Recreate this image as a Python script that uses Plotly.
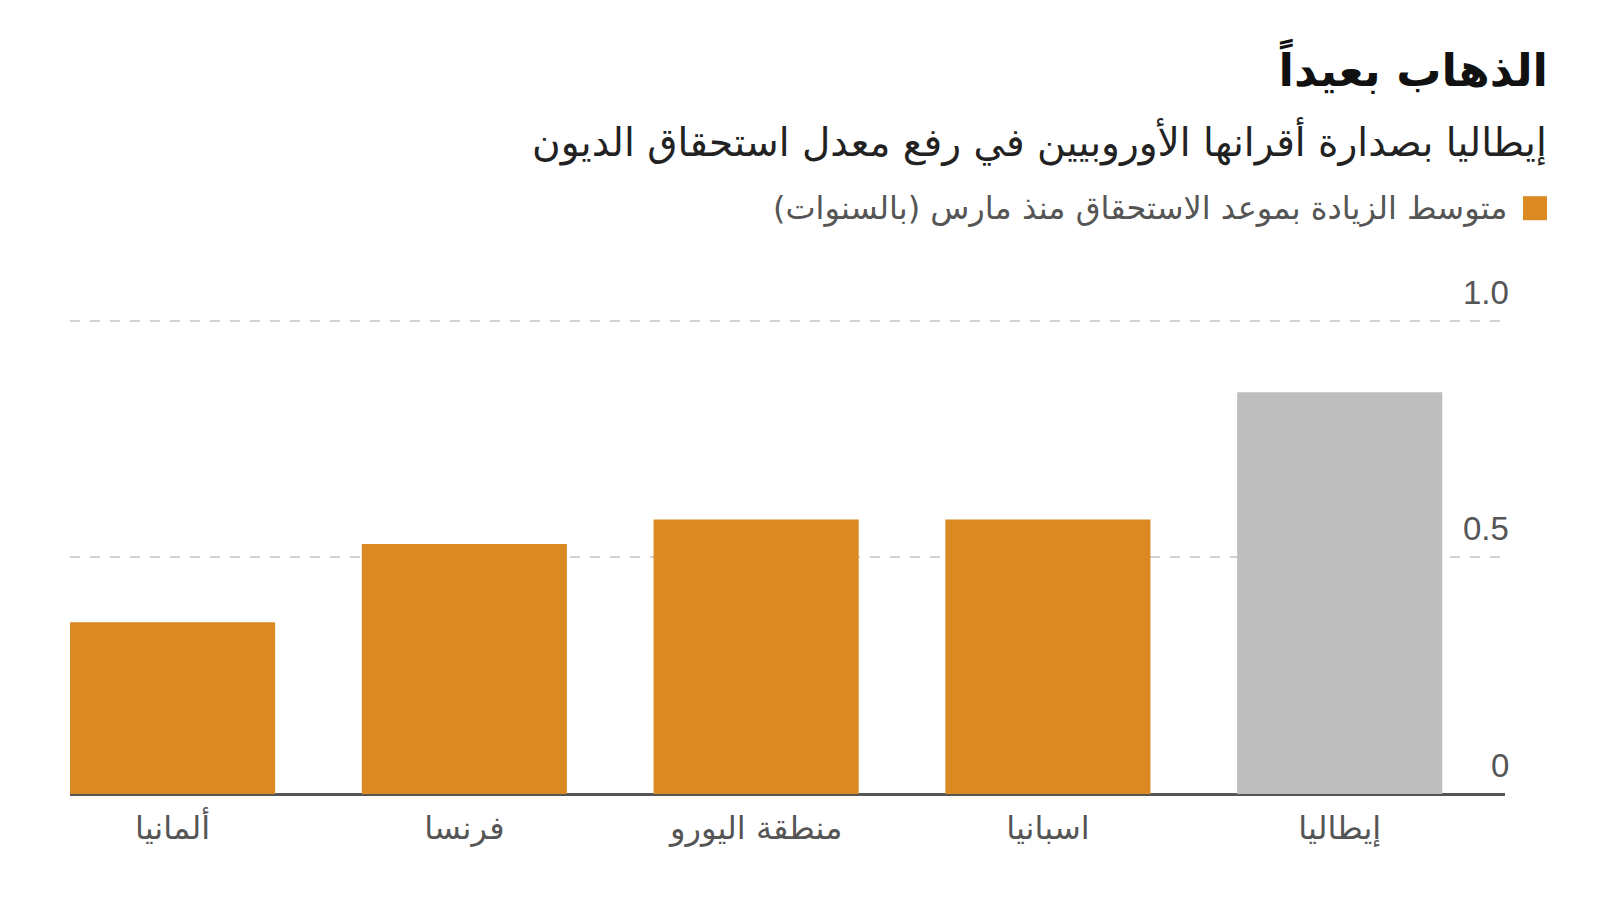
import plotly.graph_objects as go

# ---- data ----
categories = ["ألمانيا", "فرنسا", "منطقة اليورو", "اسبانيا", "إيطاليا"]
values = [0.363, 0.528, 0.580, 0.580, 0.849]
highlight = "إيطاليا"
tick_values = [0, 0.5, 1.0]
tick_labels = ["0", "0.5", "1.0"]

title_text = "الذهاب بعيداً"
subtitle_text = "إيطاليا بصدارة أقرانها الأوروبيين في رفع معدل استحقاق الديون"
legend_text = "متوسط الزيادة بموعد الاستحقاق منذ مارس (بالسنوات)"

ORANGE = "#DA8923"
GREY = "#BEBEBE"
AR_FONT = "DejaVu Sans"
NUM_FONT = "Liberation Sans"

colors = [GREY if c == highlight else ORANGE for c in categories]

fig = go.Figure(
    go.Bar(
        x=list(range(len(categories))),
        y=values,
        marker=dict(color=colors, line=dict(width=0)),
        width=0.703,
        hoverinfo="skip",
    )
)

Y_MAX = 1.05
L, R, B = 70, 95, 106
unit_px = 473.5  # pixels per 1.0 on y
plot_h = unit_px * Y_MAX
T = 900 - B - plot_h
plot_w = 1600 - L - R

def px_x(x):
    return (x - L) / plot_w

def px_y(y):
    return (900 - B - y) / plot_h

fig.update_layout(
    width=1600,
    height=900,
    margin=dict(l=L, r=R, t=T, b=B, pad=0),
    paper_bgcolor="white",
    plot_bgcolor="white",
    showlegend=False,
    title=dict(
        text="<b>" + title_text + "</b>",
        x=1548 / 1600,
        xanchor="right",
        xref="container",
        y=1 - 70 / 900,
        yanchor="middle",
        yref="container",
        font=dict(family=AR_FONT, size=45, color="#111111"),
    ),
)

fig.update_xaxes(
    range=[-0.3515, 4.5665],
    tickmode="array",
    tickvals=list(range(len(categories))),
    ticktext=categories,
    ticks="outside",
    ticklen=6,
    tickcolor="rgba(0,0,0,0)",
    tickfont=dict(family=AR_FONT, size=32, color="#555555"),
    showgrid=False,
    zeroline=False,
    showline=False,
    fixedrange=True,
)

fig.update_yaxes(
    range=[0, Y_MAX],
    tickmode="array",
    tickvals=tick_values,
    showticklabels=False,
    showgrid=True,
    gridcolor="#D2D2D2",
    gridwidth=2,
    griddash="10px,10px",
    zeroline=True,
    zerolinecolor="#555555",
    zerolinewidth=3,
    showline=False,
    fixedrange=True,
)

annotations = []
for v, t in zip(tick_values, tick_labels):
    annotations.append(
        dict(
            x=px_x(1511),
            xref="paper",
            xanchor="right",
            y=v,
            yref="y",
            yanchor="bottom",
            yshift=8,
            text=t,
            showarrow=False,
            font=dict(family=NUM_FONT, size=33, color="#555555"),
        )
    )

annotations.append(
    dict(
        x=px_x(1549),
        xref="paper",
        xanchor="right",
        y=px_y(141),
        yref="paper",
        yanchor="middle",
        text=subtitle_text,
        showarrow=False,
        font=dict(family=AR_FONT, size=39, color="#222222"),
    )
)
annotations.append(
    dict(
        x=px_x(1510),
        xref="paper",
        xanchor="right",
        y=px_y(208),
        yref="paper",
        yanchor="middle",
        text=legend_text,
        showarrow=False,
        font=dict(family=AR_FONT, size=32, color="#555555"),
    )
)
fig.update_layout(annotations=annotations)

fig.add_shape(
    type="rect",
    xref="paper",
    yref="paper",
    x0=px_x(1523),
    x1=px_x(1547),
    y0=px_y(220),
    y1=px_y(196),
    fillcolor=ORANGE,
    line=dict(width=0),
)

fig.write_html(
    "out.html",
    config={"displayModeBar": False},
    post_script="document.body.style.margin='0';document.body.style.padding='0';",
)
